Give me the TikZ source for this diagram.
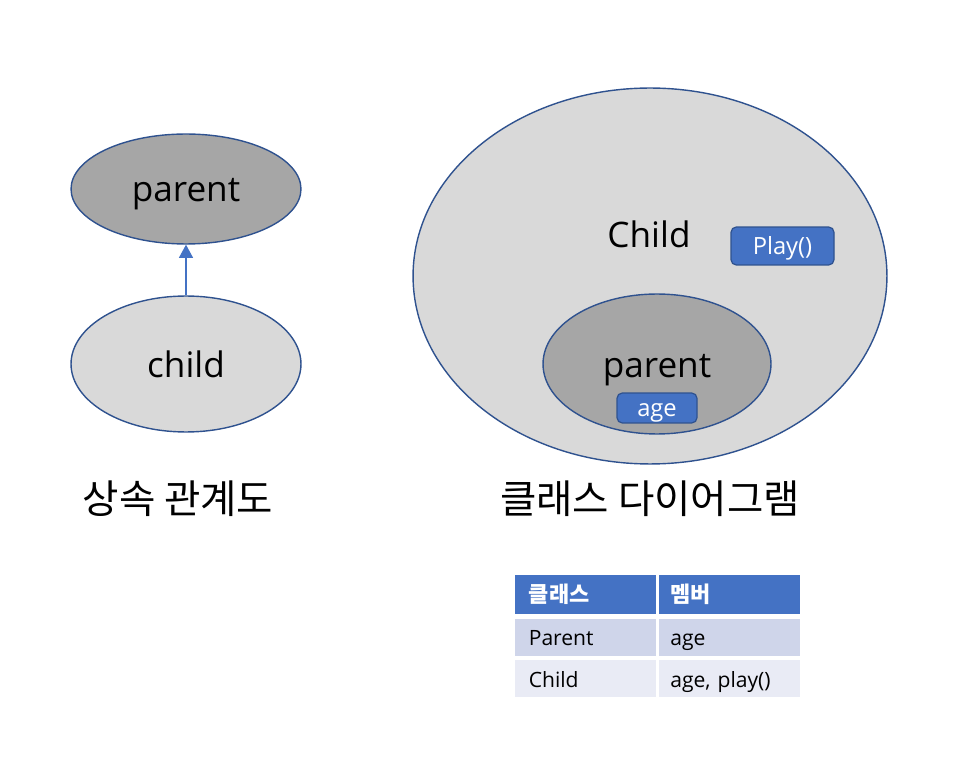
\documentclass[tikz,border=0pt]{standalone}
\usepackage{fontspec}
\setmainfont{Open Sans}
\newfontfamily\kr{Noto Sans CJK KR}
\usetikzlibrary{shapes.geometric,arrows.meta}
\definecolor{edgeblue}{HTML}{2F528F}
\definecolor{accent}{HTML}{4472C4}
\definecolor{darkgray}{HTML}{A6A6A6}
\definecolor{lightgray}{HTML}{D9D9D9}
\definecolor{rowone}{HTML}{CFD5EA}
\definecolor{rowtwo}{HTML}{E9EBF5}
\tikzset{
  blob/.style={ellipse, draw=edgeblue, line width=0.8pt, inner sep=0pt},
  tag/.style={rectangle, rounded corners=3pt, fill=accent, draw=edgeblue, line width=0.7pt, text=white, font=\fontsize{13.5}{15}\selectfont, inner sep=0pt, text height=12.8pt, text depth=2.7pt},
  bigtext/.style={font=\fontsize{20}{24}\selectfont},
  title/.style={font=\kr\fontsize{22.5}{26}\selectfont},
  cell/.style={rectangle, draw=white, line width=1.5pt, inner sep=0pt, anchor=north west, text width=#1, align=left, minimum height=0.8cm, text height=2.0ex, text depth=0.25ex, font=\fontsize{12}{14}\selectfont},
}
\begin{document}
\begin{tikzpicture}[x=0.02cm,y=-0.02cm]
\useasboundingbox (0,0) rectangle (980,766);
% left diagram
\node[blob, fill=darkgray, minimum width=4.6cm, minimum height=2.2cm] (parent) at (186,189) {};
\node[bigtext] (parentlbl) at (186,194) {parent};
\node[blob, fill=lightgray, minimum width=4.6cm, minimum height=2.72cm] (child) at (186,364) {};
\node[bigtext] (childlbl) at (186,364) {child};
\draw[accent, line width=0.6pt, -{Triangle[width=8pt,length=7.5pt]}] (child.north) -- (parent.south);
\node[title] (lefttitle) at (178,499) {상속 관계도};
% right diagram
\node[blob, fill=lightgray, minimum width=9.48cm, minimum height=7.52cm] (big) at (650,276) {};
\node[bigtext] (childword) at (649,234) {Child};
\node[tag, minimum width=2.06cm, minimum height=0.76cm] (play) at (782.5,246) {Play()};
\node[blob, fill=darkgray, minimum width=4.56cm, minimum height=2.8cm] (inner) at (657,364) {};
\node[bigtext] (innerlbl) at (657,370) {parent};
\node[tag, minimum width=1.6cm, minimum height=0.6cm] (age) at (657,408) {age};
\node[title] (righttitle) at (650,499) {클래스 다이어그램};
% table
\fill[accent] (512.5,572.5) rectangle (800,614);
\node[cell=2.87cm, text=white, font=\kr\bfseries\fontsize{12.5}{14}\selectfont, minimum height=0.84cm, text height=1.9ex] (h1) at (512.5,572.5) {\hspace{0.3cm}클래스};
\node[cell=2.88cm, text=white, font=\kr\bfseries\fontsize{12.5}{14}\selectfont, minimum height=0.84cm, text height=1.9ex] (h2) at (656,572.5) {\hspace{0.26cm}멤버};
\node[cell=2.87cm, fill=rowone] (r1a) at (512.5,616) {\hspace{0.3cm}Parent};
\node[cell=2.88cm, fill=rowone] (r1b) at (656,616) {\hspace{0.26cm}age};
\node[cell=2.87cm, fill=rowtwo] (r2a) at (512.5,657.5) {\hspace{0.3cm}Child};
\node[cell=2.88cm, fill=rowtwo] (r2b) at (656,657.5) {\hspace{0.26cm}age, play()};
\end{tikzpicture}
\end{document}
